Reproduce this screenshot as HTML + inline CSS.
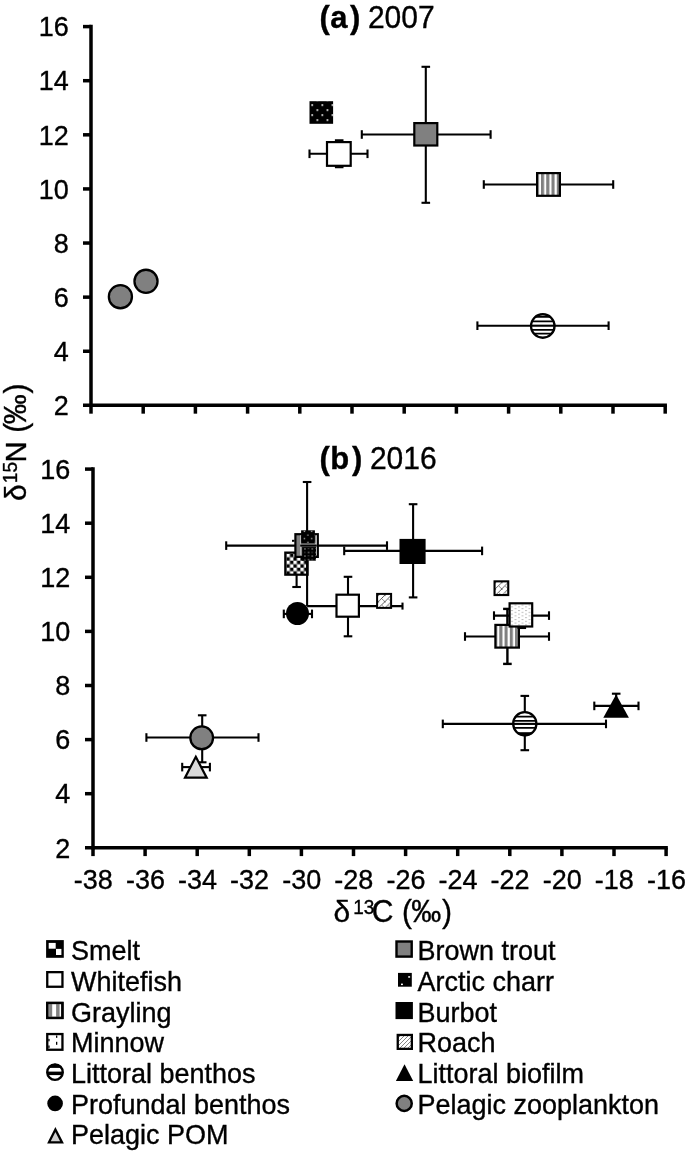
<!DOCTYPE html>
<html><head><meta charset="utf-8"><title>Stable isotope biplot</title>
<style>html,body{margin:0;padding:0;background:#fff;}svg{display:block;will-change:transform;}text{fill:#000;stroke:#000;stroke-width:0.35px;}</style></head><body>
<svg width="685" height="1153" viewBox="0 0 685 1153">
<defs>
<pattern id="pStripe" patternUnits="userSpaceOnUse" width="5.25" height="10"><rect width="5.25" height="10" fill="#fff"/><rect x="0" y="0" width="3.1" height="10" fill="#808080"/></pattern>
<pattern id="pHline" patternUnits="userSpaceOnUse" width="10" height="4.5"><rect width="10" height="4.5" fill="#fff"/><rect x="0" y="0" width="10" height="1.8" fill="#000"/></pattern>
<pattern id="pDark" patternUnits="userSpaceOnUse" width="10" height="10"><rect width="10" height="10" fill="#000"/><rect x="2" y="3.2" width="1.5" height="1.4" fill="#fff"/><rect x="7" y="8.2" width="1.5" height="1.4" fill="#fff"/></pattern>
<pattern id="pDark2" patternUnits="userSpaceOnUse" width="5" height="5"><rect width="5" height="5" fill="#000"/><rect x="1" y="1" width="1.2" height="1.2" fill="#999"/><rect x="3.5" y="3.5" width="1.2" height="1.2" fill="#999"/></pattern>
<pattern id="pCheck" patternUnits="userSpaceOnUse" width="7" height="7"><rect width="7" height="7" fill="#fff"/><rect x="0" y="0" width="3.5" height="3.5" fill="#000"/><rect x="3.5" y="3.5" width="3.5" height="3.5" fill="#000"/></pattern>
<pattern id="pDots" patternUnits="userSpaceOnUse" x="511.45" y="606.4" width="7" height="3.6"><rect width="7" height="3.6" fill="#fff"/><rect x="0" y="0" width="1.1" height="1.0" fill="#888"/><rect x="3.5" y="1.8" width="1.1" height="1.0" fill="#888"/></pattern>
<pattern id="pHatch" patternUnits="userSpaceOnUse" x="378.3" y="595.2" width="6.5" height="6.5"><rect width="6.5" height="6.5" fill="#fff"/><path d="M-1 7.5L7.5 -1M-1 1L1 -1M5.5 7.5L7.5 5.5" stroke="#333" stroke-width="0.8"/><path d="M3.2 3.2L6.5 6.5M0 0L0.8 0.8" stroke="#555" stroke-width="0.7"/></pattern>
<pattern id="pStripeA" patternUnits="userSpaceOnUse" x="541.0" y="0" width="5.25" height="10"><rect width="5.25" height="10" fill="#fff"/><rect width="3.1" height="10" fill="#808080"/></pattern>
<pattern id="pStripeB" patternUnits="userSpaceOnUse" x="499.3" y="0" width="5.25" height="10"><rect width="5.25" height="10" fill="#fff"/><rect width="3.1" height="10" fill="#808080"/></pattern>
<pattern id="pHlineA" patternUnits="userSpaceOnUse" x="0" y="316.2" width="10" height="4.4"><rect width="10" height="4.4" fill="#fff"/><rect width="10" height="1.8" fill="#000"/></pattern>
<pattern id="pHlineB" patternUnits="userSpaceOnUse" x="0" y="714.2" width="10" height="4.4"><rect width="10" height="4.4" fill="#fff"/><rect width="10" height="1.8" fill="#000"/></pattern>
<pattern id="pDarkA" patternUnits="userSpaceOnUse" x="309.5" y="101.2" width="10.1" height="10"><rect width="10.1" height="10" fill="#000"/><rect x="1.9" y="3.1" width="1.7" height="1.6" fill="#fff"/><rect x="6.95" y="8.1" width="1.7" height="1.6" fill="#fff"/></pattern>
<pattern id="pCheckB" patternUnits="userSpaceOnUse" x="286.4" y="553.7" width="7" height="7"><rect width="7" height="7" fill="#fff"/><rect x="3.5" y="0" width="3.5" height="3.5" fill="#000"/><rect x="0" y="3.5" width="3.5" height="3.5" fill="#000"/></pattern>
<pattern id="pDkT" patternUnits="userSpaceOnUse" x="301.1" y="530.3" width="7.4" height="7.2"><rect width="7.4" height="7.2" fill="#000"/><rect x="2.6" y="0.6" width="1.3" height="1.2" fill="#ccc"/><rect x="6.3" y="4.2" width="1.3" height="1.2" fill="#ccc"/></pattern>
<pattern id="pDkB" patternUnits="userSpaceOnUse" x="302.1" y="547.1" width="7.4" height="7.2"><rect width="7.4" height="7.2" fill="#000"/><rect x="2.2" y="1.2" width="1.2" height="1.2" fill="#bbb"/><rect x="5.9" y="4.8" width="1.2" height="1.2" fill="#bbb"/><rect x="5.9" y="1.0" width="1" height="1" fill="#777"/><rect x="2.2" y="4.8" width="1" height="1" fill="#777"/></pattern>
<pattern id="pHatch2" patternUnits="userSpaceOnUse" x="495.2" y="582.5" width="6.5" height="6.5"><rect width="6.5" height="6.5" fill="#fff"/><path d="M-1 7.5L7.5 -1M-1 1L1 -1M5.5 7.5L7.5 5.5" stroke="#333" stroke-width="0.8"/><path d="M3.2 3.2L6.5 6.5M0 0L0.8 0.8" stroke="#555" stroke-width="0.7"/></pattern>
<pattern id="pHatchL" patternUnits="userSpaceOnUse" width="4" height="4"><rect width="4" height="4" fill="#fff"/><path d="M-1 1L1 -1M0 4L4 0M3 5L5 3" stroke="#777" stroke-width="0.9"/></pattern>
</defs>
<rect width="685" height="1153" fill="#fff"/>
<path d="M91 24.85V407.12" stroke="#000" stroke-width="3.5" fill="none"/>
<path d="M83 405.37H666.95" stroke="#000" stroke-width="3.5" fill="none"/>
<path d="M83 26.6H91" stroke="#000" stroke-width="3.5" fill="none"/>
<text transform="translate(68.7 36.35) scale(1 1.04)" font-size="27" text-anchor="end" font-weight="normal" font-family="Liberation Sans, sans-serif" >16</text>
<path d="M83 80.71000000000001H91" stroke="#000" stroke-width="3.5" fill="none"/>
<text transform="translate(68.7 90.46) scale(1 1.04)" font-size="27" text-anchor="end" font-weight="normal" font-family="Liberation Sans, sans-serif" >14</text>
<path d="M83 134.82H91" stroke="#000" stroke-width="3.5" fill="none"/>
<text transform="translate(68.7 144.57) scale(1 1.04)" font-size="27" text-anchor="end" font-weight="normal" font-family="Liberation Sans, sans-serif" >12</text>
<path d="M83 188.92999999999998H91" stroke="#000" stroke-width="3.5" fill="none"/>
<text transform="translate(68.7 198.68) scale(1 1.04)" font-size="27" text-anchor="end" font-weight="normal" font-family="Liberation Sans, sans-serif" >10</text>
<path d="M83 243.04H91" stroke="#000" stroke-width="3.5" fill="none"/>
<text transform="translate(68.7 252.79) scale(1 1.04)" font-size="27" text-anchor="end" font-weight="normal" font-family="Liberation Sans, sans-serif" >8</text>
<path d="M83 297.15000000000003H91" stroke="#000" stroke-width="3.5" fill="none"/>
<text transform="translate(68.7 306.90) scale(1 1.04)" font-size="27" text-anchor="end" font-weight="normal" font-family="Liberation Sans, sans-serif" >6</text>
<path d="M83 351.26H91" stroke="#000" stroke-width="3.5" fill="none"/>
<text transform="translate(68.7 361.01) scale(1 1.04)" font-size="27" text-anchor="end" font-weight="normal" font-family="Liberation Sans, sans-serif" >4</text>
<text transform="translate(68.7 415.12) scale(1 1.04)" font-size="27" text-anchor="end" font-weight="normal" font-family="Liberation Sans, sans-serif" >2</text>
<path d="M91.00 405.37V413.67" stroke="#000" stroke-width="3.5" fill="none"/>
<path d="M143.20 405.37V413.67" stroke="#000" stroke-width="3.5" fill="none"/>
<path d="M195.40 405.37V413.67" stroke="#000" stroke-width="3.5" fill="none"/>
<path d="M247.60 405.37V413.67" stroke="#000" stroke-width="3.5" fill="none"/>
<path d="M299.80 405.37V413.67" stroke="#000" stroke-width="3.5" fill="none"/>
<path d="M352.00 405.37V413.67" stroke="#000" stroke-width="3.5" fill="none"/>
<path d="M404.20 405.37V413.67" stroke="#000" stroke-width="3.5" fill="none"/>
<path d="M456.40 405.37V413.67" stroke="#000" stroke-width="3.5" fill="none"/>
<path d="M508.60 405.37V413.67" stroke="#000" stroke-width="3.5" fill="none"/>
<path d="M560.80 405.37V413.67" stroke="#000" stroke-width="3.5" fill="none"/>
<path d="M613.00 405.37V413.67" stroke="#000" stroke-width="3.5" fill="none"/>
<path d="M665.20 405.37V413.67" stroke="#000" stroke-width="3.5" fill="none"/>
<path d="M93 467.35V849.55" stroke="#000" stroke-width="3.5" fill="none"/>
<path d="M85 847.8H667.85" stroke="#000" stroke-width="3.5" fill="none"/>
<path d="M85 469.1H93" stroke="#000" stroke-width="3.5" fill="none"/>
<text transform="translate(70.2 478.85) scale(1 1.04)" font-size="27" text-anchor="end" font-weight="normal" font-family="Liberation Sans, sans-serif" >16</text>
<path d="M85 523.2H93" stroke="#000" stroke-width="3.5" fill="none"/>
<text transform="translate(70.2 532.95) scale(1 1.04)" font-size="27" text-anchor="end" font-weight="normal" font-family="Liberation Sans, sans-serif" >14</text>
<path d="M85 577.3000000000001H93" stroke="#000" stroke-width="3.5" fill="none"/>
<text transform="translate(70.2 587.05) scale(1 1.04)" font-size="27" text-anchor="end" font-weight="normal" font-family="Liberation Sans, sans-serif" >12</text>
<path d="M85 631.4000000000001H93" stroke="#000" stroke-width="3.5" fill="none"/>
<text transform="translate(70.2 641.15) scale(1 1.04)" font-size="27" text-anchor="end" font-weight="normal" font-family="Liberation Sans, sans-serif" >10</text>
<path d="M85 685.5H93" stroke="#000" stroke-width="3.5" fill="none"/>
<text transform="translate(70.2 695.25) scale(1 1.04)" font-size="27" text-anchor="end" font-weight="normal" font-family="Liberation Sans, sans-serif" >8</text>
<path d="M85 739.6H93" stroke="#000" stroke-width="3.5" fill="none"/>
<text transform="translate(70.2 749.35) scale(1 1.04)" font-size="27" text-anchor="end" font-weight="normal" font-family="Liberation Sans, sans-serif" >6</text>
<path d="M85 793.7H93" stroke="#000" stroke-width="3.5" fill="none"/>
<text transform="translate(70.2 803.45) scale(1 1.04)" font-size="27" text-anchor="end" font-weight="normal" font-family="Liberation Sans, sans-serif" >4</text>
<text transform="translate(70.2 857.55) scale(1 1.04)" font-size="27" text-anchor="end" font-weight="normal" font-family="Liberation Sans, sans-serif" >2</text>
<path d="M93.00 847.8V856.0999999999999" stroke="#000" stroke-width="3.5" fill="none"/>
<text transform="translate(93.30 888.70) scale(1 1.04)" font-size="27" text-anchor="middle" font-weight="normal" font-family="Liberation Sans, sans-serif" >-38</text>
<path d="M145.10 847.8V856.0999999999999" stroke="#000" stroke-width="3.5" fill="none"/>
<text transform="translate(145.40 888.70) scale(1 1.04)" font-size="27" text-anchor="middle" font-weight="normal" font-family="Liberation Sans, sans-serif" >-36</text>
<path d="M197.20 847.8V856.0999999999999" stroke="#000" stroke-width="3.5" fill="none"/>
<text transform="translate(197.50 888.70) scale(1 1.04)" font-size="27" text-anchor="middle" font-weight="normal" font-family="Liberation Sans, sans-serif" >-34</text>
<path d="M249.30 847.8V856.0999999999999" stroke="#000" stroke-width="3.5" fill="none"/>
<text transform="translate(249.60 888.70) scale(1 1.04)" font-size="27" text-anchor="middle" font-weight="normal" font-family="Liberation Sans, sans-serif" >-32</text>
<path d="M301.40 847.8V856.0999999999999" stroke="#000" stroke-width="3.5" fill="none"/>
<text transform="translate(301.70 888.70) scale(1 1.04)" font-size="27" text-anchor="middle" font-weight="normal" font-family="Liberation Sans, sans-serif" >-30</text>
<path d="M353.50 847.8V856.0999999999999" stroke="#000" stroke-width="3.5" fill="none"/>
<text transform="translate(353.80 888.70) scale(1 1.04)" font-size="27" text-anchor="middle" font-weight="normal" font-family="Liberation Sans, sans-serif" >-28</text>
<path d="M405.60 847.8V856.0999999999999" stroke="#000" stroke-width="3.5" fill="none"/>
<text transform="translate(405.90 888.70) scale(1 1.04)" font-size="27" text-anchor="middle" font-weight="normal" font-family="Liberation Sans, sans-serif" >-26</text>
<path d="M457.70 847.8V856.0999999999999" stroke="#000" stroke-width="3.5" fill="none"/>
<text transform="translate(458.00 888.70) scale(1 1.04)" font-size="27" text-anchor="middle" font-weight="normal" font-family="Liberation Sans, sans-serif" >-24</text>
<path d="M509.80 847.8V856.0999999999999" stroke="#000" stroke-width="3.5" fill="none"/>
<text transform="translate(510.10 888.70) scale(1 1.04)" font-size="27" text-anchor="middle" font-weight="normal" font-family="Liberation Sans, sans-serif" >-22</text>
<path d="M561.90 847.8V856.0999999999999" stroke="#000" stroke-width="3.5" fill="none"/>
<text transform="translate(562.20 888.70) scale(1 1.04)" font-size="27" text-anchor="middle" font-weight="normal" font-family="Liberation Sans, sans-serif" >-20</text>
<path d="M614.00 847.8V856.0999999999999" stroke="#000" stroke-width="3.5" fill="none"/>
<text transform="translate(614.30 888.70) scale(1 1.04)" font-size="27" text-anchor="middle" font-weight="normal" font-family="Liberation Sans, sans-serif" >-18</text>
<path d="M666.10 847.8V856.0999999999999" stroke="#000" stroke-width="3.5" fill="none"/>
<text transform="translate(666.40 888.70) scale(1 1.04)" font-size="27" text-anchor="middle" font-weight="normal" font-family="Liberation Sans, sans-serif" >-16</text>
<text transform="translate(0 28.4) scale(1 1.04)" font-size="31" font-weight="bold" x="319.56 330.29 349.97" font-family="Liberation Sans, sans-serif">(a)</text>
<text transform="translate(0 28.4) scale(1 1.04)" font-size="30" x="367.9" font-family="Liberation Sans, sans-serif">2007</text>
<text transform="translate(0 468.9) scale(1 1.04)" font-size="31" font-weight="bold" x="319.56 330.26 351.97" font-family="Liberation Sans, sans-serif">(b)</text>
<text transform="translate(0 468.9) scale(1 1.04)" font-size="30" x="369.9" font-family="Liberation Sans, sans-serif">2016</text>
<text transform="translate(0 922.0) scale(1 0.97)" font-size="30" x="333.45" font-family="Liberation Sans, sans-serif">δ</text>
<text transform="translate(0 922.0) scale(1 1.04)" font-size="30" font-family="Liberation Sans, sans-serif"><tspan x="353.25" dy="-7.7" font-size="19">13</tspan><tspan x="371.8" dy="7.7">C</tspan><tspan x="402.1">(</tspan><tspan x="411.2">‰</tspan><tspan x="442.1">)</tspan></text>
<g transform="translate(25.8 500.6) rotate(-90)"><text transform="scale(1 0.97)" font-size="30" x="-0.45" font-family="Liberation Sans, sans-serif">δ</text><text transform="scale(1 1.04)" font-size="30" font-family="Liberation Sans, sans-serif"><tspan x="17.45" dy="-8.6" font-size="19">15</tspan><tspan x="38.0" dy="8.6" font-size="29.2">N</tspan><tspan x="67.8">(</tspan><tspan x="76.3">‰</tspan><tspan x="107.0">)</tspan></text></g>
<circle cx="120.4" cy="296.7" r="11.55" fill="#808080" stroke="#000" stroke-width="2.3"/>
<circle cx="146.0" cy="281.3" r="11.55" fill="#808080" stroke="#000" stroke-width="2.3"/>
<rect x="309.5" y="101.2" width="23.6" height="22.6" fill="url(#pDarkA)"/>
<path d="M309.5 153.8H367.5" stroke="#000" stroke-width="2.1" fill="none"/>
<path d="M309.5 149.5V158.10000000000002" stroke="#000" stroke-width="2.1" fill="none"/>
<path d="M367.5 149.5V158.10000000000002" stroke="#000" stroke-width="2.1" fill="none"/>
<path d="M339.2 140.3V167.2" stroke="#000" stroke-width="2.1" fill="none"/>
<path d="M334.9 140.3H343.5" stroke="#000" stroke-width="2.1" fill="none"/>
<path d="M334.9 167.2H343.5" stroke="#000" stroke-width="2.1" fill="none"/>
<rect x="327.00" y="142.10" width="23.70" height="23.70" fill="#fff" stroke="#000" stroke-width="2.2"/>
<path d="M361.8 134.5H490.6" stroke="#000" stroke-width="2.1" fill="none"/>
<path d="M361.8 130.2V138.8" stroke="#000" stroke-width="2.1" fill="none"/>
<path d="M490.6 130.2V138.8" stroke="#000" stroke-width="2.1" fill="none"/>
<path d="M425.8 66.8V202.8" stroke="#000" stroke-width="2.1" fill="none"/>
<path d="M421.5 66.8H430.1" stroke="#000" stroke-width="2.1" fill="none"/>
<path d="M421.5 202.8H430.1" stroke="#000" stroke-width="2.1" fill="none"/>
<rect x="414.30" y="123.10" width="23.00" height="22.40" fill="#808080" stroke="#000" stroke-width="2.2"/>
<path d="M483.8 184.5H613.2" stroke="#000" stroke-width="2.1" fill="none"/>
<path d="M483.8 180.2V188.8" stroke="#000" stroke-width="2.1" fill="none"/>
<path d="M613.2 180.2V188.8" stroke="#000" stroke-width="2.1" fill="none"/>
<rect x="537.10" y="173.10" width="22.80" height="22.70" fill="url(#pStripeA)" stroke="#000" stroke-width="2.2"/>
<path d="M477.4 325.7H608.6" stroke="#000" stroke-width="2.1" fill="none"/>
<path d="M477.4 321.4V330.0" stroke="#000" stroke-width="2.1" fill="none"/>
<path d="M608.6 321.4V330.0" stroke="#000" stroke-width="2.1" fill="none"/>
<clipPath id="cA"><circle cx="542.8" cy="326.0" r="12.4"/></clipPath>
<circle cx="542.8" cy="326.0" r="11.7" fill="#fff"/>
<g clip-path="url(#cA)" stroke="#000" stroke-width="1.7"><path d="M528 316.9H558M528 321.45H558M528 329.8H558M528 333.6H558"/></g>
<path d="M530.5 325.7H555.1" stroke="#000" stroke-width="2.1" fill="none"/>
<circle cx="542.8" cy="326.0" r="11.75" fill="none" stroke="#000" stroke-width="2.3"/>
<path d="M296.6 570V587.0" stroke="#000" stroke-width="2.1" fill="none"/>
<path d="M292.3 587.0H300.90000000000003" stroke="#000" stroke-width="2.1" fill="none"/>
<rect x="285.30" y="552.60" width="22.30" height="22.10" fill="url(#pCheckB)" stroke="#000" stroke-width="2.2"/>
<path d="M226.2 545.6H387.0" stroke="#000" stroke-width="2.1" fill="none"/>
<path d="M226.2 541.3000000000001V549.9" stroke="#000" stroke-width="2.1" fill="none"/>
<path d="M387.0 541.3000000000001V549.9" stroke="#000" stroke-width="2.1" fill="none"/>
<path d="M307.1 482.0V606.0" stroke="#000" stroke-width="2.1" fill="none"/>
<path d="M302.8 482.0H311.40000000000003" stroke="#000" stroke-width="2.1" fill="none"/>
<rect x="295.40" y="534.20" width="22.40" height="22.70" fill="#808080" stroke="#000" stroke-width="2.2"/>
<path d="M300.7 535.3V555.2M316.3 535.3V555.2M300.7 543.9H316.3" stroke="#c4c4c4" stroke-width="1.1" fill="none"/>
<path d="M300.2 545.6H316.8" stroke="#000" stroke-width="2.0"/>
<rect x="301.1" y="530.3" width="13.8" height="13.2" fill="url(#pDkT)"/>
<rect x="302.1" y="547.1" width="13.9" height="13.6" fill="url(#pDkB)"/>
<path d="M292 540.8H294.5" stroke="#000" stroke-width="2"/>
<path d="M344.2 550.9H482.1" stroke="#000" stroke-width="2.1" fill="none"/>
<path d="M344.2 546.6V555.1999999999999" stroke="#000" stroke-width="2.1" fill="none"/>
<path d="M482.1 546.6V555.1999999999999" stroke="#000" stroke-width="2.1" fill="none"/>
<path d="M413.1 504.2V597.4" stroke="#000" stroke-width="2.1" fill="none"/>
<path d="M408.8 504.2H417.40000000000003" stroke="#000" stroke-width="2.1" fill="none"/>
<path d="M408.8 597.4H417.40000000000003" stroke="#000" stroke-width="2.1" fill="none"/>
<rect x="399.5" y="538.9" width="26.1" height="25.1" fill="#000"/>
<path d="M283.8 613.9H312.0" stroke="#000" stroke-width="2.1" fill="none"/>
<path d="M283.8 609.6V618.1999999999999" stroke="#000" stroke-width="2.1" fill="none"/>
<path d="M312.0 609.6V618.1999999999999" stroke="#000" stroke-width="2.1" fill="none"/>
<circle cx="297.5" cy="613.5" r="11.5" fill="#000"/>
<path d="M307.1 606.1H402.5" stroke="#000" stroke-width="2.1" fill="none"/>
<path d="M402.5 602.6V609.6" stroke="#000" stroke-width="2.1" fill="none"/>
<path d="M348.0 576.8V636.3" stroke="#000" stroke-width="2.1" fill="none"/>
<path d="M343.7 576.8H352.3" stroke="#000" stroke-width="2.1" fill="none"/>
<path d="M343.7 636.3H352.3" stroke="#000" stroke-width="2.1" fill="none"/>
<rect x="336.50" y="594.70" width="22.40" height="22.00" fill="#fff" stroke="#000" stroke-width="2.2"/>
<rect x="377.10" y="593.90" width="14.00" height="14.00" fill="url(#pHatch)" stroke="#000" stroke-width="2.0"/>
<rect x="494.55" y="581.35" width="13.70" height="13.70" fill="url(#pHatch2)" stroke="#000" stroke-width="2.1"/>
<path d="M465.0 636.5H549.0" stroke="#000" stroke-width="2.1" fill="none"/>
<path d="M465.0 632.2V640.8" stroke="#000" stroke-width="2.1" fill="none"/>
<path d="M549.0 632.2V640.8" stroke="#000" stroke-width="2.1" fill="none"/>
<path d="M507.4 608.9V663.9" stroke="#000" stroke-width="2.4" fill="none"/>
<path d="M503.09999999999997 608.9H511.7" stroke="#000" stroke-width="2.4" fill="none"/>
<path d="M503.09999999999997 663.9H511.7" stroke="#000" stroke-width="2.4" fill="none"/>
<rect x="495.40" y="624.90" width="23.50" height="22.70" fill="url(#pStripeB)" stroke="#000" stroke-width="2.2"/>
<path d="M494.0 615.6H549.0" stroke="#000" stroke-width="2.1" fill="none"/>
<path d="M494.0 611.3000000000001V619.9" stroke="#000" stroke-width="2.1" fill="none"/>
<path d="M549.0 611.3000000000001V619.9" stroke="#000" stroke-width="2.1" fill="none"/>
<path d="M521.8 603V628.0" stroke="#000" stroke-width="2.1" fill="none"/>
<path d="M517.5 628.0H526.0999999999999" stroke="#000" stroke-width="2.1" fill="none"/>
<rect x="509.60" y="603.30" width="22.60" height="23.20" fill="url(#pDots)" stroke="#000" stroke-width="2.2"/>
<path d="M442.8 723.9H606.0" stroke="#000" stroke-width="2.1" fill="none"/>
<path d="M442.8 719.6V728.1999999999999" stroke="#000" stroke-width="2.1" fill="none"/>
<path d="M606.0 719.6V728.1999999999999" stroke="#000" stroke-width="2.1" fill="none"/>
<path d="M524.8 695.9V750.2" stroke="#000" stroke-width="2.1" fill="none"/>
<path d="M520.5 695.9H529.0999999999999" stroke="#000" stroke-width="2.1" fill="none"/>
<path d="M520.5 750.2H529.0999999999999" stroke="#000" stroke-width="2.1" fill="none"/>
<clipPath id="cB"><circle cx="524.8" cy="723.75" r="12.4"/></clipPath>
<circle cx="524.8" cy="723.75" r="11.6" fill="#fff"/>
<g clip-path="url(#cB)" stroke="#000" stroke-width="1.8"><path d="M510 716.7H540M510 720.8H540M510 727.9H540"/><rect x="510" y="732.2" width="30" height="6" stroke="none" fill="#000"/></g>
<path d="M512.5 723.9H537.1" stroke="#000" stroke-width="2.1" fill="none"/>
<circle cx="524.8" cy="723.75" r="11.6" fill="none" stroke="#000" stroke-width="2.3"/>
<path d="M594.3 705.9H638.5" stroke="#000" stroke-width="2.1" fill="none"/>
<path d="M594.3 701.6V710.1999999999999" stroke="#000" stroke-width="2.1" fill="none"/>
<path d="M638.5 701.6V710.1999999999999" stroke="#000" stroke-width="2.1" fill="none"/>
<path d="M616.2 693.7V710" stroke="#000" stroke-width="2.1" fill="none"/>
<path d="M611.9000000000001 693.7H620.5" stroke="#000" stroke-width="2.1" fill="none"/>
<path d="M616.1 694.6L628.9 717.8H603.3Z" fill="#000"/>
<path d="M146.4 737.5H258.5" stroke="#000" stroke-width="2.1" fill="none"/>
<path d="M146.4 733.2V741.8" stroke="#000" stroke-width="2.1" fill="none"/>
<path d="M258.5 733.2V741.8" stroke="#000" stroke-width="2.1" fill="none"/>
<path d="M202.2 715.3V762.3" stroke="#000" stroke-width="2.1" fill="none"/>
<path d="M197.89999999999998 715.3H206.5" stroke="#000" stroke-width="2.1" fill="none"/>
<path d="M197.89999999999998 762.3H206.5" stroke="#000" stroke-width="2.1" fill="none"/>
<circle cx="201.7" cy="737.8" r="11.35" fill="#808080" stroke="#000" stroke-width="2.3"/>
<path d="M182.2 767.1H209.9" stroke="#000" stroke-width="2.1" fill="none"/>
<path d="M182.2 762.8000000000001V771.4" stroke="#000" stroke-width="2.1" fill="none"/>
<path d="M209.9 762.8000000000001V771.4" stroke="#000" stroke-width="2.1" fill="none"/>
<path d="M195.80 756.79L206.69 777.70L185.01 777.70Z" fill="#d9d9d9" stroke="#000" stroke-width="2.2" stroke-linejoin="miter"/>
<text transform="translate(71.0 960.30) scale(1 1.04)" font-size="27" text-anchor="start" font-weight="normal" font-family="Liberation Sans, sans-serif" >Smelt</text>
<text transform="translate(71.0 990.97) scale(1 1.04)" font-size="27" text-anchor="start" font-weight="normal" font-family="Liberation Sans, sans-serif" >Whitefish</text>
<text transform="translate(71.0 1021.64) scale(1 1.04)" font-size="27" text-anchor="start" font-weight="normal" font-family="Liberation Sans, sans-serif" >Grayling</text>
<text transform="translate(71.0 1052.31) scale(1 1.04)" font-size="27" text-anchor="start" font-weight="normal" font-family="Liberation Sans, sans-serif" >Minnow</text>
<text transform="translate(71.0 1082.98) scale(1 1.04)" font-size="27" text-anchor="start" font-weight="normal" font-family="Liberation Sans, sans-serif" >Littoral benthos</text>
<text transform="translate(71.0 1113.65) scale(1 1.04)" font-size="27" text-anchor="start" font-weight="normal" font-family="Liberation Sans, sans-serif" >Profundal benthos</text>
<text transform="translate(71.0 1144.32) scale(1 1.04)" font-size="27" text-anchor="start" font-weight="normal" font-family="Liberation Sans, sans-serif" >Pelagic POM</text>
<text transform="translate(417.5 960.30) scale(1 1.04)" font-size="27" text-anchor="start" font-weight="normal" font-family="Liberation Sans, sans-serif" >Brown trout</text>
<text transform="translate(417.5 990.97) scale(1 1.04)" font-size="27" text-anchor="start" font-weight="normal" font-family="Liberation Sans, sans-serif" >Arctic charr</text>
<text transform="translate(417.5 1021.64) scale(1 1.04)" font-size="27" text-anchor="start" font-weight="normal" font-family="Liberation Sans, sans-serif" >Burbot</text>
<text transform="translate(417.5 1052.31) scale(1 1.04)" font-size="27" text-anchor="start" font-weight="normal" font-family="Liberation Sans, sans-serif" >Roach</text>
<text transform="translate(417.5 1082.98) scale(1 1.04)" font-size="27" text-anchor="start" font-weight="normal" font-family="Liberation Sans, sans-serif" >Littoral biofilm</text>
<text transform="translate(417.5 1113.65) scale(1 1.04)" font-size="27" text-anchor="start" font-weight="normal" font-family="Liberation Sans, sans-serif" >Pelagic zooplankton</text>
<rect x="46.1" y="940.1" width="17.7" height="17.7" fill="#000"/>
<rect x="48.7" y="942.9" width="7.0" height="5.8" fill="#fff"/>
<rect x="56.0" y="948.9" width="5.4" height="6.1" fill="#fff"/>
<rect x="47.25" y="972.15" width="15.20" height="14.60" fill="#fff" stroke="#000" stroke-width="2.3"/>
<rect x="47.25" y="1002.95" width="15.20" height="15.00" fill="#fff" stroke="#000" stroke-width="2.3"/>
<rect x="49.1" y="1003" width="3.1" height="15" fill="#808080"/>
<rect x="56.1" y="1003" width="3.5" height="15" fill="#808080"/>
<rect x="47.25" y="1002.95" width="15.20" height="15.00" fill="none" stroke="#000" stroke-width="2.3"/>
<rect x="47.25" y="1034.05" width="15.20" height="15.70" fill="#fff" stroke="#000" stroke-width="2.3"/>
<rect x="56.0" y="1035.5" width="1.3" height="2.3" fill="#000"/>
<rect x="56.0" y="1041.8" width="1.3" height="3.0" fill="#000"/>
<rect x="48.3" y="1038.9" width="1.3" height="2.4" fill="#000"/>
<rect x="48.3" y="1045.5" width="1.3" height="2.4" fill="#000"/>
<clipPath id="cLB"><circle cx="55.0" cy="1072.15" r="8.5"/></clipPath>
<circle cx="55.0" cy="1072.15" r="7.7" fill="#fff"/>
<g clip-path="url(#cLB)"><rect x="46" y="1063" width="18" height="4.9" fill="#000"/><rect x="46" y="1071.6" width="18" height="3.5" fill="#000"/></g>
<circle cx="55.0" cy="1072.15" r="7.7" fill="none" stroke="#000" stroke-width="2.4"/>
<circle cx="55.1" cy="1103.4" r="7.8" fill="#000"/>
<path d="M55.40 1129.53L62.02 1142.35L48.98 1142.35Z" fill="#d0d0d0" stroke="#000" stroke-width="2.3" stroke-linejoin="miter"/>
<rect x="396.50" y="941.50" width="15.20" height="15.10" fill="#808080" stroke="#000" stroke-width="2.4"/>
<rect x="398.0" y="972.9" width="13.8" height="13.8" fill="#000"/>
<rect x="408.2" y="976.2" width="1.9" height="1.5" fill="#fff"/>
<rect x="401.0" y="983.6" width="1.9" height="1.5" fill="#fff"/>
<rect x="395.5" y="1002.0" width="17.4" height="17.1" fill="#000"/>
<rect x="397.75" y="1034.95" width="14.10" height="13.90" fill="url(#pHatchL)" stroke="#000" stroke-width="2.3"/>
<path d="M404.5 1064.3L413.2 1080.9H395.9Z" fill="#000"/>
<circle cx="404.2" cy="1103.4" r="7.55" fill="#808080" stroke="#000" stroke-width="2.5"/>
</svg></body></html>
